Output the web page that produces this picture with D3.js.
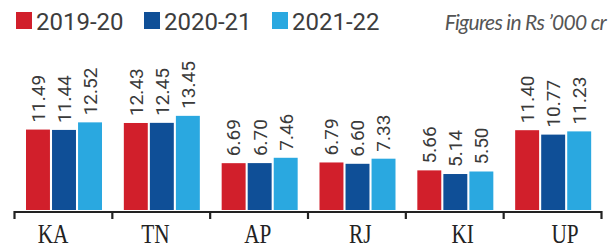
<!DOCTYPE html>
<html><head><meta charset="utf-8">
<script src="https://cdn.jsdelivr.net/npm/d3@7"></script>
<style>body{margin:0;background:#fff}svg{display:block}</style>
</head><body>
<svg id="c" width="615" height="248"></svg>
<script>
const categories = ["KA","TN","AP","RJ","KI","UP"];
const seriesNames = ["2019-20","2020-21","2021-22"];
const v2019 = [11.49,12.43,6.69,6.79,5.66,11.40];
const v2020 = [11.44,12.45,6.70,6.60,5.14,10.77];
const v2021 = [12.52,13.45,7.46,7.33,5.50,11.23];
const labels2019 = ["11.49","12.43","6.69","6.79","5.66","11.40"];
const labels2020 = ["11.44","12.45","6.70","6.60","5.14","10.77"];
const labels2021 = ["12.52","13.45","7.46","7.33","5.50","11.23"];
const colors = ["#d11f2b","#0f4f97","#2aa8e0"];

const series = [v2019, v2020, v2021];
const seriesLabels = [labels2019, labels2020, labels2021];
const svg = d3.select("#c");

const x0 = d3.scaleBand().domain(categories).range([14, 601]);
const x1 = d3.scaleBand().domain(seriesNames).range([12, 88]).paddingInner(0.08);
const xLab = d3.scalePoint().domain(categories).range([53, 565]);
const y = d3.scaleLinear().domain([0, 14]).range([210, 112]);

const rows = categories.map((c, i) => ({cat: c, vals: series.map((s, j) => ({name: seriesNames[j], v: s[i], label: seriesLabels[j][i], color: colors[j]}))}));

const g = svg.selectAll("g.grp").data(rows).join("g").attr("class","grp")
  .attr("transform", d => `translate(${x0(d.cat)},0)`);
g.selectAll("rect").data(d => d.vals).join("rect")
  .attr("x", d => x1(d.name)).attr("width", x1.bandwidth())
  .attr("y", d => y(d.v)).attr("height", d => y(0) - y(d.v))
  .attr("fill", d => d.color);
g.selectAll("text.val").data(d => d.vals).join("text").attr("class","val")
  .attr("transform", d => `translate(${x1(d.name) + x1.bandwidth()/2},${y(d.v) - 7}) rotate(-90)`)
  .attr("dy","0.36em")
  .attr("font-family","Roboto, sans-serif").attr("font-size",19).attr("fill","#3a3a3a")
  .text(d => d.label);

// axis
const ax = svg.append("g").attr("transform","translate(0,212)");
ax.append("line").attr("x1",14).attr("x2",602).attr("y1",0).attr("y2",0).attr("stroke","#222").attr("stroke-width",2.2);
const tickPos = categories.map(c => x0(c)).concat([x0.range()[1]]);
ax.selectAll("line.tk").data(tickPos).join("line").attr("class","tk")
  .attr("x1", d => d + 0.5).attr("x2", d => d + 0.5).attr("y1", -1).attr("y2", 7)
  .attr("stroke","#222").attr("stroke-width",2.2);

svg.selectAll("text.cat").data(categories).join("text").attr("class","cat")
  .attr("transform", d => `translate(${xLab(d)},243) scale(0.76,1)`)
  .attr("text-anchor","middle")
  .attr("font-family","Liberation Serif, serif").attr("font-size",28).attr("fill","#222")
  .text(d => d);

// legend
const legX = [16, 144, 272];
const lg = svg.selectAll("g.leg").data(seriesNames).join("g").attr("class","leg")
  .attr("transform", (d,i) => `translate(${legX[i]},0)`);
lg.append("rect").attr("x",0).attr("y",12).attr("width",16).attr("height",17).attr("fill",(d,i)=>colors[i]);
lg.append("text").attr("x",20).attr("y",30).attr("font-family","Roboto, sans-serif").attr("font-size",24)
  .attr("fill","#3d3d3d").text(d => d);

svg.append("text").attr("x",606).attr("y",30).attr("text-anchor","end")
  .attr("font-family","Lato, sans-serif").attr("font-style","italic").attr("font-size",21)
  .attr("letter-spacing","-0.7").attr("fill","#555").text("Figures in Rs \u2019000 cr");
</script>
</body></html>
